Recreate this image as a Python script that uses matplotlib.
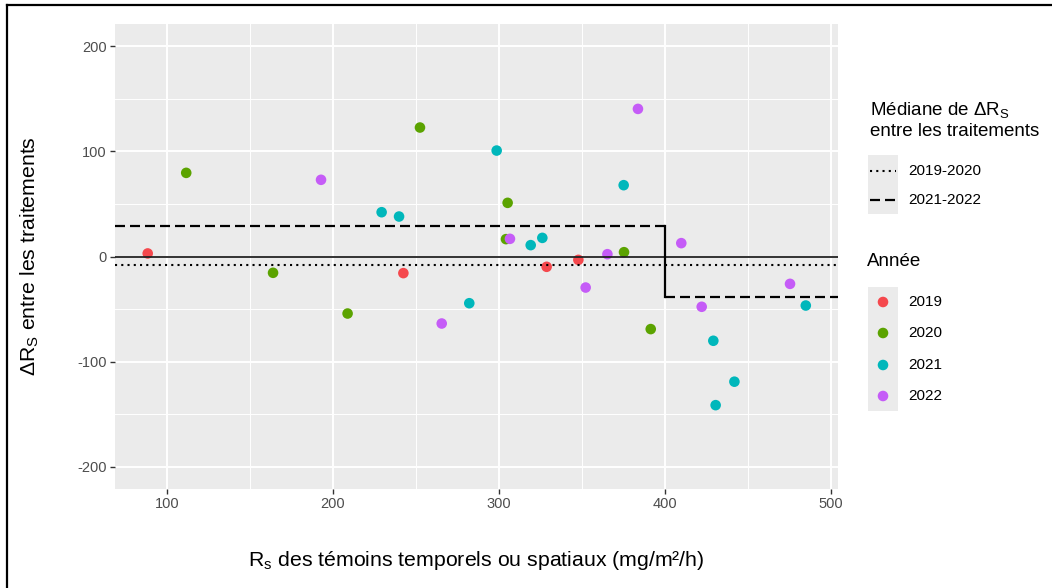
import numpy as np
import matplotlib
matplotlib.use("Agg")
import matplotlib.pyplot as plt

plt.rcParams['font.family'] = ['Liberation Sans', 'DejaVu Sans']
plt.rcParams['mathtext.fontset'] = 'custom'
plt.rcParams['mathtext.rm'] = 'Liberation Sans'
plt.rcParams['mathtext.it'] = 'Liberation Sans:italic'
plt.rcParams['mathtext.default'] = 'regular'
plt.rcParams['axes.unicode_minus'] = False

# points, one list per year
x_2019 = [88.4, 242.4, 328.7, 347.8]
y_2019 = [2.9, -15.8, -9.8, -3.2]
x_2020 = [111.6, 163.9, 208.8, 252.4, 304.2, 305.2, 375.3, 391.4]
y_2020 = [79.5, -15.5, -54.2, 122.6, 16.5, 51.0, 4.1, -69.0]
x_2021 = [229.3, 239.8, 282.1, 298.6, 319.1, 326.1, 375.1, 429.1, 430.5, 441.8, 484.8]
y_2021 = [42.1, 38.0, -44.4, 100.7, 10.8, 17.7, 67.8, -80.1, -141.3, -119.0, -46.6]
x_2022 = [192.8, 265.5, 306.6, 352.2, 365.3, 383.7, 409.8, 422.1, 475.3]
y_2022 = [72.9, -63.7, 16.8, -29.5, 2.2, 140.3, 12.7, -47.8, -26.0]

years = ["2019", "2020", "2021", "2022"]
colors = ["#F5484D", "#5BA300", "#00B7BB", "#C55CF7"]

# medians of delta Rs
median_1920 = -8.2
split_x = 400
median_2122_low = 29.2
median_2122_high = -38.3

x_ticks = [100, 200, 300, 400, 500]
y_ticks = [-200, -100, 0, 100, 200]

fig = plt.figure(figsize=(10.52, 5.88), dpi=100)
W, H = 1052, 588
ax = fig.add_axes([115 / W, 1 - 489 / H, (838 - 115) / W, (489 - 24) / H])
ax.set_facecolor("#EBEBEB")
for s in ax.spines.values():
    s.set_visible(False)

ax.set_xlim(68.7, 504.2)
ax.set_ylim(-221, 221)
ax.set_xticks(x_ticks)
ax.set_yticks(y_ticks)
ax.set_xticks([150, 250, 350, 450], minor=True)
ax.set_yticks([-150, -50, 50, 150], minor=True)
ax.grid(which="major", color="white", lw=1.4)
ax.grid(which="minor", color="white", lw=0.7)
ax.set_axisbelow(True)
ax.tick_params(which="major", length=3.5, width=1.0, color="#333333",
               labelsize=10.5, labelcolor="#4D4D4D", pad=2.5)
ax.tick_params(which="minor", length=0)

for xs, ys, c in zip([x_2019, x_2020, x_2021, x_2022],
                     [y_2019, y_2020, y_2021, y_2022], colors):
    ax.scatter(xs, ys, s=58, color=c, edgecolors="none", zorder=3)

ax.axhline(0, color="#222222", lw=1.3, zorder=4)
ax.axhline(median_1920, color="black", lw=1.5, ls=(0, (1, 2)), zorder=4)
ax.plot([68.7, split_x], [median_2122_low, median_2122_low], color="black",
        lw=1.6, ls=(0, (4.5, 2.25)), zorder=4)
ax.plot([split_x, 504.2], [median_2122_high, median_2122_high], color="black",
        lw=1.6, ls=(0, (4.5, 2.25)), zorder=4)
ax.plot([split_x, split_x], [median_2122_low, median_2122_high], color="black",
        lw=1.6, zorder=4)

ax.set_xlabel("R$_s$ des témoins temporels ou spatiaux (mg/m²/h)", fontsize=15.3, labelpad=27)
ax.set_ylabel("ΔR$_S$ entre les traitements", fontsize=15.3, labelpad=26)

# overlay in pixel coordinates for legend and frame
dax = fig.add_axes([0, 0, 1, 1], facecolor="none")
dax.set_xlim(0, W)
dax.set_ylim(H, 0)
dax.axis("off")

dax.plot([7, 7], [5, H], color="black", lw=1.6)
dax.plot([7, W], [5, 5], color="black", lw=1.6)

dax.text(870, 110, "Médiane de ΔR$_S$", fontsize=13.5, va="center", ha="left")
dax.text(870, 132, "entre les traitements", fontsize=13.5, va="center", ha="left")
dax.add_patch(plt.Rectangle((868, 155), 30, 59, color="#EBEBEB", lw=0))
dax.plot([870, 896], [171, 171], color="black", lw=1.5, ls=(0, (1, 2)))
dax.plot([870, 896], [200, 200], color="black", lw=1.6, ls=(0, (4.5, 2.25)))
dax.text(908, 171, "2019-2020", fontsize=11, va="center", ha="left")
dax.text(908, 200, "2021-2022", fontsize=11, va="center", ha="left")

dax.text(867, 262, "Année", fontsize=13.5, va="center", ha="left")
dax.add_patch(plt.Rectangle((868, 287), 30, 124, color="#EBEBEB", lw=0))
key_y = [302, 333, 365, 396]
for yy, c, lab in zip(key_y, colors, years):
    dax.scatter([883], [yy], s=58, color=c, edgecolors="none")
    dax.text(908, yy, lab, fontsize=11, va="center", ha="left")

fig.savefig("out.png", dpi=100)
